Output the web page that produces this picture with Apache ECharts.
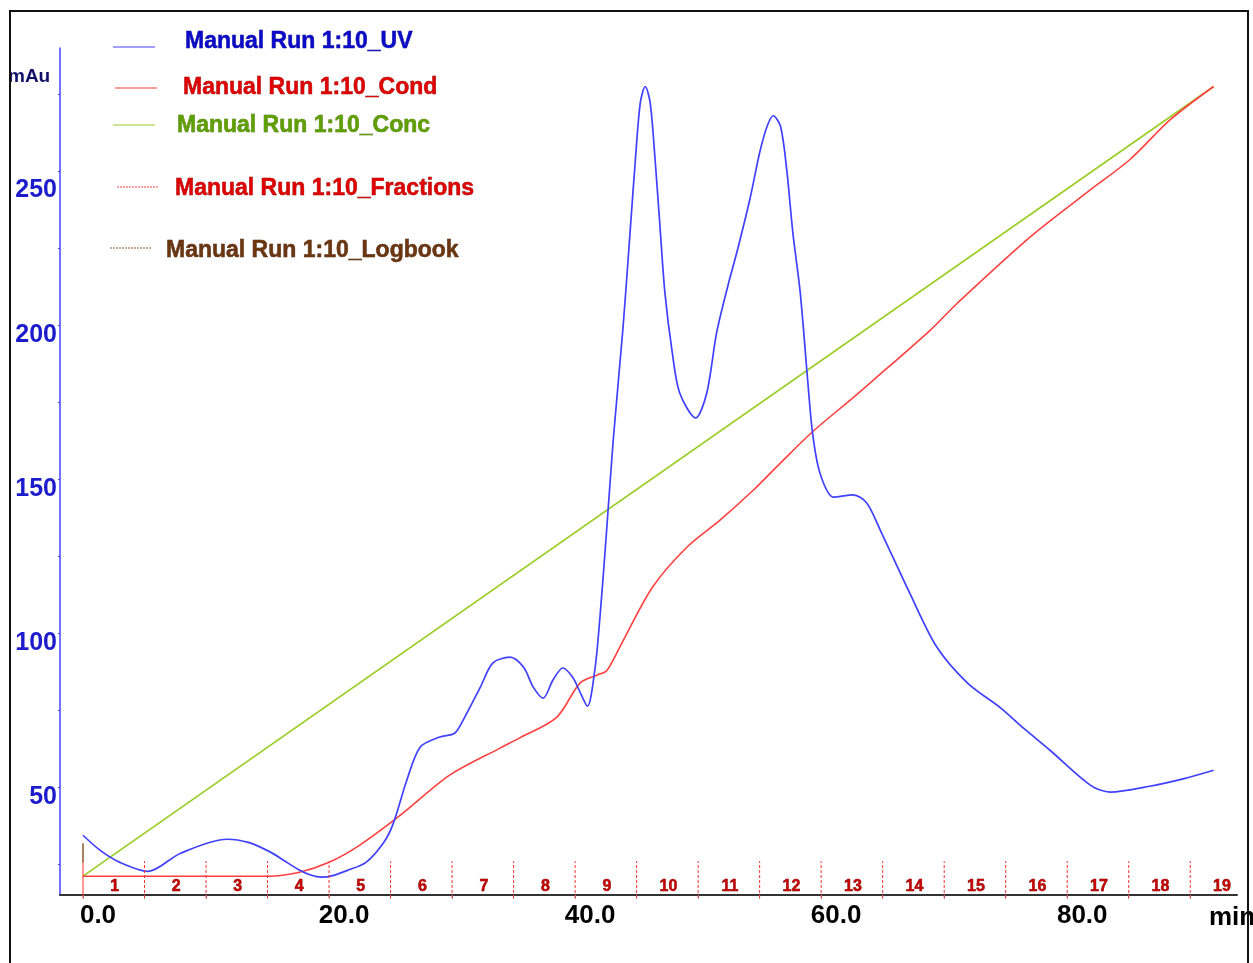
<!DOCTYPE html>
<html>
<head>
<meta charset="utf-8">
<script src="https://cdn.jsdelivr.net/npm/echarts@6/dist/echarts.min.js"></script>
<style>html,body{margin:0;padding:0;background:#fff;}#c{width:1253px;height:963px;}</style>
</head>
<body>
<div id="c"></div>
<script>
// ---- data (time in min, values on the mAu scale as drawn) ----
const uvTime = [0, 1.4, 3, 5.3, 7.9, 11.7, 13.5, 15.2, 16.3, 17.5, 18.5, 19.4, 20.3, 21.5, 23, 24.4, 25.2, 26.3, 27.4, 29, 30.2, 30.9, 32.3, 33.3, 34.7, 35.8, 36.6, 37.4, 38.2, 39, 39.8, 40.4, 41, 41.6, 42, 42.5, 43.1, 43.9, 44.5, 44.9, 45.3, 45.7, 46.1, 46.5, 46.9, 47.3, 47.9, 48.5, 49.8, 50.7, 51.5, 52.4, 53.2, 54.2, 55, 55.6, 56.1, 56.7, 57.2, 57.7, 58.3, 58.9, 59.3, 59.9, 61, 62.6, 63.7, 64.8, 67.2, 69.4, 71.9, 74.6, 76.5, 78.6, 81.9, 83.5, 86.7, 89.5, 91.9];
const uvValue = [34.4, 29.5, 25.6, 22.7, 28.5, 33.1, 32, 29, 26.3, 23.3, 21.5, 20.8, 21.3, 23, 25.6, 31.8, 38, 52, 63, 66.3, 67.5, 71.8, 82.5, 90.3, 92.2, 89, 82.5, 78.9, 84.8, 88.7, 85.7, 80.9, 76.3, 88, 104.3, 130, 162.8, 199.5, 232, 253.8, 272.3, 277.5, 272.3, 253.8, 232, 210.5, 191, 178, 169.9, 178, 197.5, 212.5, 224.5, 240.8, 256, 264.5, 268, 264.5, 250.5, 230, 210.5, 182.3, 165, 152, 144.2, 144.9, 142.3, 133.5, 113, 95.5, 83.8, 75.7, 69, 62, 50.6, 48.4, 50.3, 52.8, 55.5];

const condTime = [0, 15, 17.6, 20, 22.5, 25.8, 29.8, 33.9, 35.5, 38.5, 40.4, 41.8, 42.6, 43.8, 46.3, 49.1, 51.8, 54.5, 56.7, 59.3, 62.6, 64.2, 68.9, 71.1, 77, 81.9, 85.1, 88.4, 91.9];
const condValue = [21.1, 21.1, 22.4, 25.6, 31.2, 40.9, 53.9, 62.7, 66, 72.7, 83.8, 86.4, 88, 96.8, 115, 128, 136.8, 146.5, 155.3, 165.4, 176.5, 182, 198.5, 207.3, 228.7, 244, 253.8, 266.8, 277.5];

const concTime = [0, 91.9];
const concValue = [21.1, 277.5];

const fractionStart = [0, 5, 10, 15, 20, 25, 30, 35, 40, 45, 50, 55, 60, 65, 70, 75, 80, 85, 90];
const fractionLabel = ['1','2','3','4','5','6','7','8','9','10','11','12','13','14','15','16','17','18','19'];
const logbookTime = [0];

const xTickLabels = [0, 20, 40, 60, 80];
const xTicks = [0, 5, 10, 15, 20, 25, 30, 35, 40, 45, 50, 55, 60, 65, 70, 75, 80, 85, 90];
const yTickLabels = [50, 100, 150, 200, 250];
const yTicks = [25, 50, 75, 100, 125, 150, 175, 200, 225, 250, 275];

const legendItems = [
  {name: 'Manual Run 1:10_UV', color: '#0a0ac8', edge: '#000080', line: '#4040ff', dash: 'solid', lx: 113, ly: 47, tx: 185, ty: 42},
  {name: 'Manual Run 1:10_Cond', color: '#e00000', edge: '#700000', line: '#ff4040', dash: 'solid', lx: 115, ly: 88, tx: 183, ty: 88},
  {name: 'Manual Run 1:10_Conc', color: '#5fa000', edge: '#3a6000', line: '#99cc22', dash: 'solid', lx: 113, ly: 125, tx: 177, ty: 126},
  {name: 'Manual Run 1:10_Fractions', color: '#e00000', edge: '#700000', line: '#ff4040', dash: [2, 1], lx: 117, ly: 187, tx: 175, ty: 189},
  {name: 'Manual Run 1:10_Logbook', color: '#6b3510', edge: '#3a1a05', line: '#8b5a2b', dash: [2, 1], lx: 110, ly: 248, tx: 166, ty: 251}
];

const zip = (a, b) => a.map((t, i) => [t, b[i]]);
const FONT = '"Liberation Sans", Arial, sans-serif';

const chart = echarts.init(document.getElementById('c'));

const graphics = [];
legendItems.forEach(it => {
  graphics.push({type: 'line', shape: {x1: it.lx, y1: it.ly, x2: it.lx + 42, y2: it.ly},
    style: {stroke: it.line, lineWidth: 1.2, lineDash: it.dash}});
  graphics.push({type: 'text', x: it.tx, y: it.ty,
    style: {text: it.name, fill: it.color, stroke: it.edge, lineWidth: 0.5, font: 'bold 23px ' + FONT, textVerticalAlign: 'middle', textAlign: 'left'}});
});
graphics.push({type: 'text', x: 8, y: 77, style: {text: 'mAu', fill: '#10106a', font: 'bold 19px ' + FONT, textVerticalAlign: 'middle'}});
graphics.push({type: 'text', x: 1209, y: 918, style: {text: 'min', fill: '#000', font: 'bold 26px ' + FONT, textVerticalAlign: 'middle'}});
graphics.push({type: 'rect', z: 100, shape: {x: 10, y: 11, width: 1238, height: 980},
  style: {fill: 'none', stroke: '#111', lineWidth: 2}});

chart.setOption({
  animation: false,
  backgroundColor: '#fff',
  grid: {left: 60, right: 16, top: 48, bottom: 68, outerBoundsMode: 'none'},
  xAxis: {
    type: 'value', min: -1.87, max: 93.8,
    axisLine: {onZero: false, lineStyle: {color: '#333', width: 2}},
    axisTick: {customValues: xTicks, length: 4, lineStyle: {color: '#999'}},
    splitLine: {show: false},
    axisLabel: {
      customValues: xTickLabels, margin: 8,
      formatter: v => '{a|' + v.toFixed(1) + '}',
      rich: {a: {fontFamily: FONT, fontWeight: 'bold', fontSize: 26, color: '#000', padding: [0, 0, 0, 30]}}
    }
  },
  yAxis: {
    type: 'value', min: 15, max: 290,
    axisLine: {show: true, onZero: false, lineStyle: {color: '#4545ff', width: 1.5}},
    axisTick: {show: true, customValues: yTicks, length: 2, lineStyle: {color: '#4545ff'}},
    splitLine: {show: false},
    axisLabel: {
      customValues: yTickLabels, margin: 3,
      formatter: v => (v === 250 ? '{b|' : '{a|') + v + '}',
      rich: {
        a: {fontFamily: FONT, fontWeight: 'bold', fontSize: 25, color: '#1c1ccc', padding: [20, 0, 0, 0]},
        b: {fontFamily: FONT, fontWeight: 'bold', fontSize: 25, color: '#1c1ccc', padding: [38, 0, 0, 0]}
      }
    }
  },
  graphic: graphics,
  series: [
    {name: 'Conc', type: 'line', data: zip(concTime, concValue), symbol: 'none',
      lineStyle: {color: '#99cc22', width: 1.6}, z: 2},
    {name: 'Cond', type: 'line', data: zip(condTime, condValue), symbol: 'none', smooth: 0.3,
      lineStyle: {color: '#ff4040', width: 1.6}, z: 3},
    {name: 'UV', type: 'line', data: zip(uvTime, uvValue), symbol: 'none', smooth: 0.3,
      lineStyle: {color: '#4040ff', width: 1.7}, z: 4},
    {name: 'Fractions', type: 'custom', z: 5, clip: false,
      data: fractionStart.map((t, i) => [t, i]),
      renderItem: (params, api) => {
        const t = api.value(0), i = api.value(1);
        const base = api.coord([t, 15]);
        const top = api.coord([t, 26]);
        const mid = api.coord([t + 2.5, 15]);
        return {type: 'group', children: [
          {type: 'line', shape: {x1: base[0], y1: base[1] + 3, x2: top[0], y2: top[1]},
            style: {stroke: '#ff3030', lineWidth: 1, lineDash: i === 0 ? null : [3, 2]}},
          {type: 'text', x: mid[0] + 1, y: base[1] - 8,
            style: {text: fractionLabel[i], fill: '#c80000', font: 'bold 16px ' + FONT,
              textAlign: 'center', textVerticalAlign: 'middle', stroke: '#500000', lineWidth: 0.5}}
        ]};
      }},
    {name: 'Logbook', type: 'custom', z: 6, clip: false,
      data: logbookTime.map(t => [t]),
      renderItem: (params, api) => {
        const a = api.coord([api.value(0), 25.6]);
        const b = api.coord([api.value(0), 31.8]);
        return {type: 'line', shape: {x1: a[0], y1: a[1], x2: b[0], y2: b[1]},
          style: {stroke: '#8b5a2b', lineWidth: 1.5}};
      }}
  ]
});
</script>
</body>
</html>
